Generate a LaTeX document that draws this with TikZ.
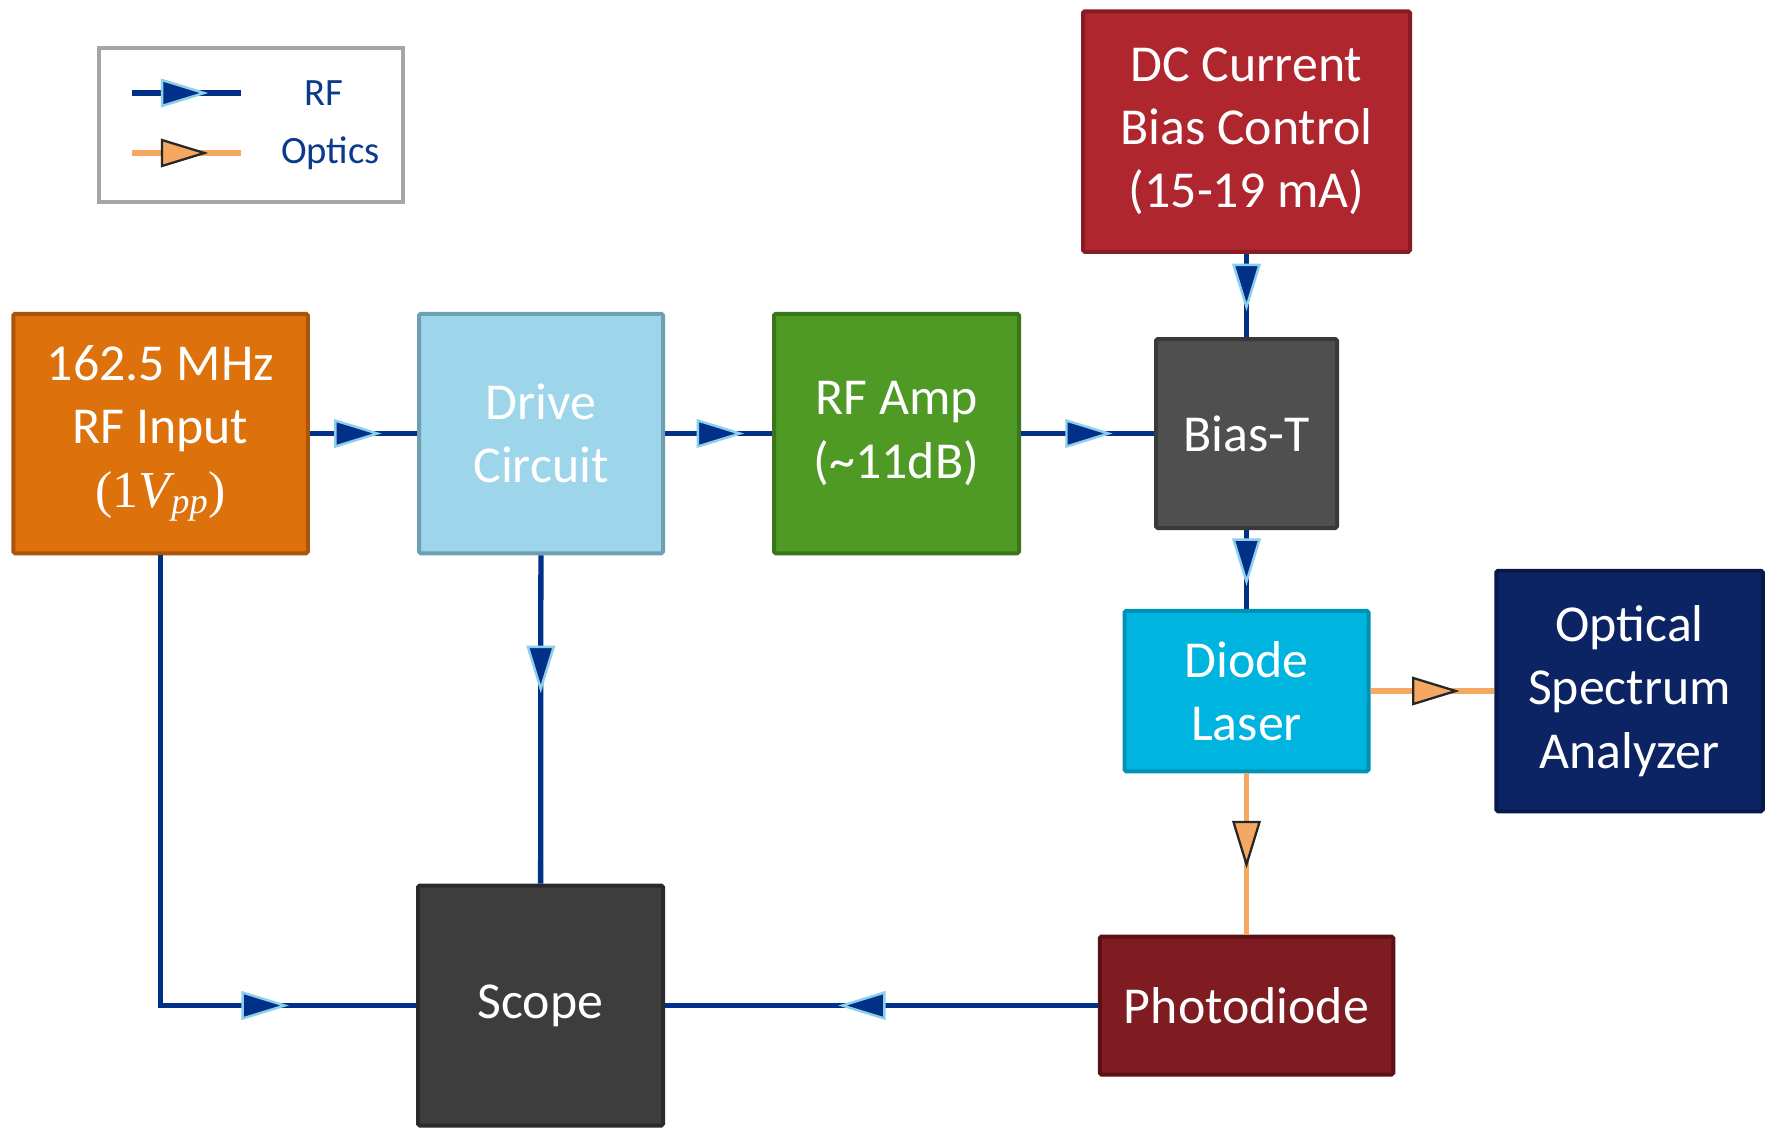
\documentclass[tikz,border=0pt]{standalone}
\usepackage{fontspec}
\setmainfont{Carlito}
\newfontfamily\serifmath{Liberation Serif}
\usetikzlibrary{arrows.meta, positioning, decorations.markings}

\definecolor{rfblue}{HTML}{003087}
\definecolor{rfedge}{HTML}{8CCFEA}
\definecolor{optorange}{HTML}{F5A862}
\definecolor{optedge}{HTML}{262626}
\definecolor{legendtext}{HTML}{0B3A8C}
\definecolor{legendgray}{HTML}{A6A6A6}
\definecolor{srcfill}{HTML}{DD720C}
\definecolor{srcdraw}{HTML}{A9560A}
\definecolor{drivefill}{HTML}{9DD5EA}
\definecolor{drivedraw}{HTML}{6E9FB2}
\definecolor{ampfill}{HTML}{4F9A25}
\definecolor{ampdraw}{HTML}{3B761A}
\definecolor{dcfill}{HTML}{B0262F}
\definecolor{dcdraw}{HTML}{891B22}
\definecolor{teefill}{HTML}{4F4F4F}
\definecolor{teedraw}{HTML}{393939}
\definecolor{laserfill}{HTML}{00B4E0}
\definecolor{laserdraw}{HTML}{0092B5}
\definecolor{osafill}{HTML}{0C2463}
\definecolor{osadraw}{HTML}{06194A}
\definecolor{pdfill}{HTML}{7F1C22}
\definecolor{pddraw}{HTML}{5A1116}
\definecolor{scopefill}{HTML}{3D3D3D}
\definecolor{scopedraw}{HTML}{2A2A2A}

\tikzset{
  rfhead/.tip={Triangle[length=0.95cm, width=0.57cm, line width=1.4pt 0, color=rfedge, fill=rfblue]},
  opthead/.tip={Triangle[length=0.95cm, width=0.57cm, line width=1.3pt 0, color=optedge, fill=optorange]},
}

\begin{document}
\begin{tikzpicture}[
    font=\fontsize{29.5}{36}\selectfont,
    box/.style={rectangle, rounded corners=1pt, line width=0.08cm, text=white,
      align=center, inner sep=2pt},
    srcbox/.style={box, fill=srcfill, draw=srcdraw},
    drivebox/.style={box, fill=drivefill, draw=drivedraw},
    ampbox/.style={box, fill=ampfill, draw=ampdraw},
    dcbox/.style={box, fill=dcfill, draw=dcdraw},
    teebox/.style={box, fill=teefill, draw=teedraw},
    laserbox/.style={box, fill=laserfill, draw=laserdraw},
    osabox/.style={box, fill=osafill, draw=osadraw},
    pdbox/.style={box, fill=pdfill, draw=pddraw},
    scopebox/.style={box, fill=scopefill, draw=scopedraw},
    rfline/.style={draw=rfblue, line width=3pt},
    optline/.style={draw=optorange, line width=3pt},
    rfarrow/.style={rfline, postaction={decorate, decoration={markings,
      mark=at position #1 with {\arrow{rfhead}}}}},
    optarrow/.style={optline, postaction={decorate, decoration={markings,
      mark=at position #1 with {\arrow{opthead}}}}},
    legendbox/.style={rectangle, draw=legendgray, line width=0.08cm,
      minimum width=6.08cm, minimum height=3.08cm},
    legendlabel/.style={text=legendtext, font=\fontsize{22}{26}\selectfont},
  ]
  \useasboundingbox (0,0) rectangle (35.34,-22.56);

  % legend
  \node[legendbox] (legend) at (5.02,-2.50) {};
  \coordinate (rfa) at (2.64,-1.86);
  \coordinate (rfb) at (4.82,-1.86);
  \coordinate (opta) at (2.64,-3.06);
  \coordinate (optb) at (4.82,-3.06);
  \node[legendlabel] (rflabel)  at (6.47,-1.86) {RF};
  \node[legendlabel] (optlabel) at (6.61,-3.06) {Optics};
  \draw[rfarrow=0.70] (rfa) -- (rfb);
  \draw[optarrow=0.70] (opta) -- (optb);

  % blocks
  \node[srcbox, minimum width=5.89cm, minimum height=4.79cm]   (rfin)  at (3.21,-8.67)   {162.5 MHz\\RF Input\\{\serifmath (1\textit{V}\textsubscript{\kern-0.1em\textit{pp}})}};
  \node[drivebox, minimum width=4.88cm, minimum height=4.79cm] (drive) at (10.82,-8.67)  {Drive\\Circuit};
  \node[ampbox, minimum width=4.90cm, minimum height=4.79cm]   (amp)   at (17.93,-8.67)  {RF Amp\\(\textasciitilde11dB)};
  \node[dcbox, minimum width=6.54cm, minimum height=4.81cm]    (dc)    at (24.93,-2.63)  {DC Current\\Bias Control\\(15-19 mA)};
  \node[teebox, minimum width=3.62cm, minimum height=3.78cm]   (biast) at (24.93,-8.67)  {Bias-T};
  \node[laserbox, minimum width=4.88cm, minimum height=3.21cm] (diode) at (24.93,-13.82) {Diode\\Laser};
  \node[osabox, minimum width=5.33cm, minimum height=4.81cm]   (osa)   at (32.59,-13.82) {Optical\\Spectrum\\Analyzer};
  \node[pdbox, minimum width=5.87cm, minimum height=2.76cm]    (photo) at (24.93,-20.11) {Photodiode};
  \node[scopebox, minimum width=4.90cm, minimum height=4.80cm] (scope) at (10.81,-20.11) {Scope};

  % rf paths
  \draw[rfarrow=0.67] (rfin) -- (drive);
  \draw[rfarrow=0.74] (drive) -- (amp);
  \draw[rfarrow=0.69] (amp) -- (biast);
  \draw[rfarrow=0.69] (dc) -- (biast);
  \draw[rfarrow=0.71] (biast) -- (diode);
  \draw[rfarrow=0.42] (drive) -- (scope);
  \draw[rfarrow=0.82] (rfin) |- (scope);
  \draw[rfarrow=0.60] (photo) -- (scope);

  % optical paths
  \draw[optarrow=0.72] (diode) -- (osa);
  \draw[optarrow=0.59] (diode) -- (photo);
\end{tikzpicture}
\end{document}
